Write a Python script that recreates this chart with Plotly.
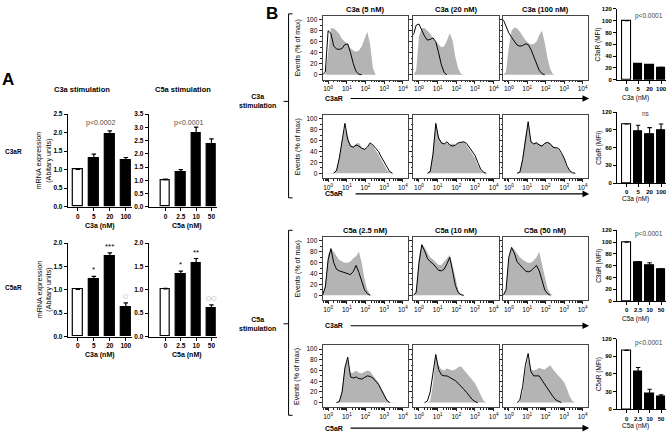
import plotly.graph_objects as go

W, H = 672, 436
FONT = "Liberation Sans, Arial, sans-serif"
GRAY = "#b4b4b4"

# ---------------- Panel A : mRNA expression ----------------
C3A_DOSES = ["0", "5", "20", "100"]
C5A_DOSES = ["0", "2.5", "10", "50"]
C3AR_MRNA_C3A = [1.01, 1.30, 1.97, 1.26]
C3AR_MRNA_C3A_ERR = [0.01, 0.12, 0.08, 0.07]
C3AR_MRNA_C5A = [1.02, 1.30, 2.79, 2.35]
C3AR_MRNA_C5A_ERR = [0.02, 0.10, 0.22, 0.22]
C5AR_MRNA_C3A = [1.01, 1.22, 1.73, 0.64]
C5AR_MRNA_C3A_ERR = [0.01, 0.07, 0.06, 0.08]
C5AR_MRNA_C5A = [1.02, 1.33, 1.58, 0.62]
C5AR_MRNA_C5A_ERR = [0.01, 0.07, 0.09, 0.06]
SIG_C5AR_C3A = ["", "*", "***", "○"]
SIG_C5AR_C5A = ["", "*", "**", "○○"]
SIG_IS_GRAY = [False, False, False, True]

# ---------------- Panel B : MFI bars ----------------
C3AR_MFI_C3A = [100, 26, 24.5, 20]
C3AR_MFI_C3A_ERR = [0, 1, 1, 1]
C5AR_MFI_C3A = [100, 87, 83, 89]
C5AR_MFI_C3A_ERR = [0, 11, 11, 11]
C3AR_MFI_C5A = [100, 65, 60, 54]
C3AR_MFI_C5A_ERR = [0, 1.5, 5, 1]
C5AR_MFI_C5A = [100, 64, 26, 21]
C5AR_MFI_C5A_ERR = [0, 7, 8, 3.5]

# ---------------- Panel B : histograms (log10 fluorescence grid) ----------------
HIST_LOGX = [-0.3, -0.15, 0.0, 0.15, 0.3, 0.45, 0.6, 0.75, 0.9, 1.05, 1.2, 1.35, 1.5, 1.65,
             1.8, 1.95, 2.1, 2.25, 2.4, 2.55, 2.7, 2.85, 3.0, 3.15, 3.3, 3.45, 3.6, 3.75, 3.9]
HIST_TICK_VALS = [1, 10, 100, 1000, 10000]
HIST_TICK_TEXT = ["10<sup>0</sup>", "10<sup>1</sup>", "10<sup>2</sup>", "10<sup>3</sup>", "10<sup>4</sup>"]
HIST_TITLES_C3A = ["C3a (5 nM)", "C3a (20 nM)", "C3a (100 nM)"]
HIST_TITLES_C5A = ["C5a (2.5 nM)", "C5a (10 nM)", "C5a (50 nM)"]

# C3a stimulation, C3aR staining
C3A5_C3AR_CTRL = [0, 0, 40, 85, 84, 80, 74, 65, 60, 55, 48, 44, 42, 44, 52, 65, 78, 55, 12, 0, 0, 0, 0, 0, 0, 0, 0, 0, 0]
C3A5_C3AR_STIM = [0, 5, 80, 75, 52, 47, 46, 48, 55, 56, 40, 20, 6, 1, 0, 0, 0, 0, 0, 0, 0, 0, 0, 0, 0, 0, 0, 0, 0]
C3A20_C3AR_CTRL = [0, 8, 70, 85, 85, 80, 75, 66, 60, 54, 50, 52, 62, 76, 62, 32, 12, 2, 0, 0, 0, 0, 0, 0, 0, 0, 0, 0, 0]
C3A20_C3AR_STIM = [72, 90, 92, 80, 70, 63, 64, 67, 60, 40, 18, 4, 0, 0, 0, 0, 0, 0, 0, 0, 0, 0, 0, 0, 0, 0, 0, 0, 0]
C3A100_C3AR_CTRL = [0, 5, 50, 80, 86, 84, 78, 70, 63, 58, 55, 56, 60, 72, 80, 58, 30, 10, 1, 0, 0, 0, 0, 0, 0, 0, 0, 0, 0]
C3A100_C3AR_STIM = [100, 86, 76, 68, 60, 54, 52, 53, 56, 55, 46, 33, 18, 8, 2, 0, 0, 0, 0, 0, 0, 0, 0, 0, 0, 0, 0, 0, 0]
# C3a stimulation, C5aR staining
C3A5_C5AR_CTRL = [0, 0, 0, 0, 1, 8, 30, 60, 85, 70, 52, 50, 55, 56, 48, 45, 46, 55, 50, 42, 35, 25, 15, 6, 2, 0, 0, 0, 0]
C3A5_C5AR_STIM = [0, 0, 0, 0, 0, 5, 28, 62, 92, 62, 50, 48, 52, 50, 46, 44, 48, 56, 52, 46, 40, 30, 20, 10, 3, 0, 0, 0, 0]
C3A20_C5AR_CTRL = [0, 0, 0, 0, 0, 0, 5, 40, 90, 68, 58, 55, 56, 52, 55, 52, 55, 57, 58, 52, 44, 36, 28, 15, 6, 1, 0, 0, 0]
C3A20_C5AR_STIM = [0, 0, 0, 0, 0, 0, 3, 35, 92, 65, 56, 54, 58, 52, 50, 52, 56, 57, 58, 55, 48, 42, 33, 20, 8, 2, 0, 0, 0]
C3A100_C5AR_CTRL = [0, 0, 0, 0, 0, 0, 3, 30, 70, 90, 60, 55, 58, 54, 52, 56, 58, 55, 50, 46, 44, 36, 28, 12, 5, 1, 0, 0, 0]
C3A100_C5AR_STIM = [0, 0, 0, 0, 0, 0, 2, 25, 65, 95, 58, 54, 56, 52, 50, 55, 57, 54, 48, 47, 46, 38, 28, 14, 5, 1, 0, 0, 0]
# C5a stimulation, C3aR staining
C5A25_C3AR_CTRL = [0, 20, 75, 86, 80, 72, 65, 62, 60, 60, 62, 68, 72, 80, 60, 30, 10, 2, 0, 0, 0, 0, 0, 0, 0, 0, 0, 0, 0]
C5A25_C3AR_STIM = [0, 15, 65, 86, 60, 48, 45, 43, 41, 39, 38, 44, 55, 42, 25, 10, 3, 0, 0, 0, 0, 0, 0, 0, 0, 0, 0, 0, 0]
C5A10_C3AR_CTRL = [0, 10, 70, 95, 88, 78, 70, 66, 60, 56, 56, 62, 70, 74, 55, 30, 10, 2, 0, 0, 0, 0, 0, 0, 0, 0, 0, 0, 0]
C5A10_C3AR_STIM = [0, 5, 60, 93, 82, 68, 62, 58, 52, 46, 45, 48, 58, 70, 45, 18, 5, 1, 0, 0, 0, 0, 0, 0, 0, 0, 0, 0, 0]
C5A50_C3AR_CTRL = [0, 12, 70, 90, 84, 76, 70, 66, 62, 60, 60, 64, 70, 80, 58, 32, 12, 3, 0, 0, 0, 0, 0, 0, 0, 0, 0, 0, 0]
C5A50_C3AR_STIM = [0, 10, 70, 88, 78, 62, 56, 50, 45, 43, 45, 50, 55, 45, 25, 10, 3, 0, 0, 0, 0, 0, 0, 0, 0, 0, 0, 0, 0]
# C5a stimulation, C5aR staining
C5A25_C5AR_CTRL = [0, 0, 0, 0, 0, 0, 3, 25, 70, 80, 56, 56, 60, 56, 55, 58, 60, 58, 50, 44, 38, 28, 16, 6, 1, 0, 0, 0, 0]
C5A25_C5AR_STIM = [0, 0, 0, 0, 0, 0, 2, 20, 65, 85, 48, 46, 48, 45, 44, 47, 50, 49, 46, 40, 34, 24, 13, 4, 0, 0, 0, 0, 0]
C5A10_C5AR_CTRL = [0, 0, 0, 0, 0, 0, 3, 35, 88, 70, 62, 60, 64, 62, 60, 62, 66, 68, 62, 55, 48, 42, 36, 26, 14, 4, 0, 0, 0]
C5A10_C5AR_STIM = [0, 0, 0, 0, 0, 3, 20, 60, 90, 62, 52, 50, 50, 47, 44, 41, 36, 31, 25, 19, 12, 6, 2, 0, 0, 0, 0, 0, 0]
C5A50_C5AR_CTRL = [0, 0, 0, 0, 0, 0, 2, 20, 60, 85, 62, 60, 62, 65, 63, 62, 66, 70, 62, 56, 50, 44, 38, 26, 12, 3, 0, 0, 0]
C5A50_C5AR_STIM = [0, 0, 0, 0, 0, 0, 5, 30, 70, 92, 58, 50, 50, 50, 42, 34, 26, 18, 11, 5, 2, 0, 0, 0, 0, 0, 0, 0, 0]

# ---------------- helpers ----------------
fig = go.Figure()
layout = {}
annotations = []
shapes = []


def dx(x0, x1):
    return [x0 / W, x1 / W]


def dy(top, bot):
    return [1 - bot / H, 1 - top / H]


def ann(text, x, y, size=7, bold=False, angle=0, color="black", xanchor="center", yanchor="middle"):
    annotations.append(dict(text=text, x=x / W, y=1 - y / H, xref="paper", yref="paper",
                            showarrow=False, textangle=angle, xanchor=xanchor, yanchor=yanchor,
                            font=dict(family=FONT, size=size, color=color,
                                      weight="bold" if bold else "normal")))


def line(x0, y0, x1, y1, width=1.0, color="black"):
    shapes.append(dict(type="line", xref="paper", yref="paper", x0=x0 / W, y0=1 - y0 / H,
                       x1=x1 / W, y1=1 - y1 / H, line=dict(color=color, width=width)))


def bar_panel(n, cats, vals, errs, xd, yd, xr, yr, dtick, fmt, bw, lw=1.2, tsize=6.5):
    s = str(n)
    fig.add_trace(go.Bar(
        x=cats, y=vals, xaxis="x" + s, yaxis="y" + s, width=bw, showlegend=False,
        marker=dict(color=["white", "black", "black", "black"], line=dict(color="black", width=lw)),
        error_y=dict(type="data", array=errs, arrayminus=[0] * len(errs), symmetric=False,
                     color="black", thickness=lw, width=2.2)))
    tf = dict(family=FONT, size=tsize, color="black", weight="bold")
    layout["xaxis" + s] = dict(domain=xd, anchor="y" + s, type="category", range=xr,
                               showline=True, linecolor="black", linewidth=lw, ticks="outside",
                               ticklen=3, tickwidth=lw, tickcolor="black", showgrid=False,
                               zeroline=False, tickfont=tf, fixedrange=True)
    layout["yaxis" + s] = dict(domain=yd, anchor="x" + s, range=yr, dtick=dtick, tick0=0,
                               tickformat=fmt, showline=True, linecolor="black", linewidth=lw,
                               ticks="outside", ticklen=3, tickwidth=lw, tickcolor="black",
                               showgrid=False, zeroline=False, tickfont=tf)


def trim(vals):
    out = []
    for i, v in enumerate(vals):
        prev0 = i == 0 or vals[i - 1] == 0
        next0 = i == len(vals) - 1 or vals[i + 1] == 0
        out.append(None if (v == 0 and prev0 and next0) else v)
    return out


MINOR_X = [k / 10 for k in range(5, 10)] + [k * 10 ** e for e in range(0, 4) for k in range(2, 10)]


def hist_panel(n, ctrl, stim, xd, yd, ylabels):
    s = str(n)
    xs = [10 ** v for v in HIST_LOGX]
    fig.add_trace(go.Scatter(x=xs, y=ctrl, xaxis="x" + s, yaxis="y" + s, mode="lines",
                             fill="tozeroy", fillcolor=GRAY, line=dict(color=GRAY, width=0),
                             showlegend=False, hoverinfo="skip"))
    fig.add_trace(go.Scatter(x=xs, y=trim(stim), xaxis="x" + s, yaxis="y" + s, mode="lines",
                             line=dict(color="black", width=1.0), showlegend=False,
                             connectgaps=False))
    tf = dict(family=FONT, size=6.5, color="black")
    layout["xaxis" + s] = dict(domain=xd, anchor="y" + s, type="log", range=[-0.3, 4.3],
                               tickvals=HIST_TICK_VALS, ticktext=HIST_TICK_TEXT,
                               ticks="outside", ticklen=3, tickwidth=0.8, tickcolor="#222",
                               showline=True, mirror=True, linecolor="#444", linewidth=0.8,
                               showgrid=False, zeroline=False, tickfont=tf,
                               minor=dict(tickvals=MINOR_X, ticks="outside", ticklen=1.8,
                                          tickwidth=0.6, tickcolor="#222", showgrid=False))
    layout["yaxis" + s] = dict(domain=yd, anchor="x" + s, range=[-9, 107],
                               tickvals=[0, 20, 40, 60, 80, 100], showticklabels=ylabels,
                               ticks="outside", ticklen=3, tickwidth=0.8, tickcolor="#222",
                               showline=True, mirror=True, linecolor="#444", linewidth=0.8,
                               showgrid=False, zeroline=False, tickfont=tf,
                               minor=dict(tickvals=[10, 30, 50, 70, 90], ticks="outside",
                                          ticklen=1.8, tickwidth=0.6, tickcolor="#222"))


# ---------------- Panel A ----------------
bar_panel(1, C3A_DOSES, C3AR_MRNA_C3A, C3AR_MRNA_C3A_ERR, dx(68, 132.4), dy(112, 206),
          [-0.625, 3.4], [0, 2.5], 0.5, ".1f", 0.6)
bar_panel(2, C5A_DOSES, C3AR_MRNA_C5A, C3AR_MRNA_C5A_ERR, dx(149, 217), dy(112, 206),
          [-1.09, 3.34], [0, 3.5], 0.5, ".1f", 0.6)
bar_panel(3, C3A_DOSES, C5AR_MRNA_C3A, C5AR_MRNA_C3A_ERR, dx(68, 132.4), dy(243, 338),
          [-0.625, 3.4], [0, 2.0], 0.5, ".1f", 0.6)
bar_panel(4, C5A_DOSES, C5AR_MRNA_C5A, C5AR_MRNA_C5A_ERR, dx(149, 217), dy(243, 338),
          [-1.09, 3.34], [0, 2.0], 0.5, ".1f", 0.6)

for n, vals, errs, sigs in [(3, C5AR_MRNA_C3A, C5AR_MRNA_C3A_ERR, SIG_C5AR_C3A),
                            (4, C5AR_MRNA_C5A, C5AR_MRNA_C5A_ERR, SIG_C5AR_C5A)]:
    for i, (v, e, sg, g) in enumerate(zip(vals, errs, sigs, SIG_IS_GRAY)):
        if sg:
            annotations.append(dict(text=sg, x=i, y=v + e + 0.02, xref="x%d" % n, yref="y%d" % n,
                                    showarrow=False, yanchor="bottom", yshift=1 if g else -1,
                                    font=dict(family="DejaVu Sans" if g else FONT,
                                              size=6 if g else 8,
                                              color="#8a8a8a" if g else "black")))

ann("A", 8, 77, size=17, bold=True)
ann("C3a stimulation", 82, 87, size=7.5, bold=True)
ann("C5a stimulation", 183, 87, size=7.5, bold=True)
ann("C3aR", 14, 150, size=6.5, bold=True)
ann("C5aR", 14, 288, size=6.5, bold=True)
ann("mRNA expression<br>(Abitary units)", 44, 159, size=7.2, angle=-90)
ann("mRNA expression<br>(Abitary units)", 44, 290, size=7.2, angle=-90)
ann("p<0.0002", 101, 121, size=7, color="#4a4a4a")
ann("p<0.0001", 189, 121, size=7, color="#4a4a4a")
ann("C3a (nM)", 100, 226, size=7, bold=True)
ann("C5a (nM)", 187, 226, size=7, bold=True)
ann("C3a (nM)", 100, 357, size=7, bold=True)
ann("C5a (nM)", 187, 357, size=7, bold=True)

# ---------------- Panel B histograms ----------------
COLS = [(323, 409), (414, 500), (504, 589)]
ROWS = [(12, 77), (113, 177), (237, 301), (347, 410)]
HISTS = [
    [(C3A5_C3AR_CTRL, C3A5_C3AR_STIM), (C3A20_C3AR_CTRL, C3A20_C3AR_STIM), (C3A100_C3AR_CTRL, C3A100_C3AR_STIM)],
    [(C3A5_C5AR_CTRL, C3A5_C5AR_STIM), (C3A20_C5AR_CTRL, C3A20_C5AR_STIM), (C3A100_C5AR_CTRL, C3A100_C5AR_STIM)],
    [(C5A25_C3AR_CTRL, C5A25_C3AR_STIM), (C5A10_C3AR_CTRL, C5A10_C3AR_STIM), (C5A50_C3AR_CTRL, C5A50_C3AR_STIM)],
    [(C5A25_C5AR_CTRL, C5A25_C5AR_STIM), (C5A10_C5AR_CTRL, C5A10_C5AR_STIM), (C5A50_C5AR_CTRL, C5A50_C5AR_STIM)],
]
n = 5
for r, (yt, yb) in enumerate(ROWS):
    for c, (x0, x1) in enumerate(COLS):
        ctrl, stim = HISTS[r][c]
        hist_panel(n, ctrl, stim, dx(x0, x1), dy(yt, yb), c == 0)
        n += 1
    ann("Events (% of max)", 298, (yt + yb) / 2, size=7, angle=-90)

for c, (x0, x1) in enumerate(COLS):
    ann(HIST_TITLES_C3A[c], (x0 + x1) / 2, 6, size=7.5, bold=True)
    ann(HIST_TITLES_C5A[c], (x0 + x1) / 2, 230, size=7.5, bold=True)

ann("B", 272, 10, size=17, bold=True)

# axis arrows under histogram rows
for lab, y, xs in [("C3aR", 96, 350), ("C5aR", 193, 355), ("C3aR", 327, 350), ("C5aR", 431, 350)]:
    ann(lab, 323, y, size=7, bold=True, xanchor="left")
    annotations.append(dict(text="", x=590 / W, y=1 - y / H, xref="paper", yref="paper",
                            showarrow=True, ax=xs - 590, ay=0, axref="pixel", ayref="pixel",
                            arrowhead=2, arrowsize=1.2, arrowwidth=1.1, arrowcolor="black"))

# brackets
for top, bot, mid, lab in [(10, 197, 99, "C3a<br>stimulation"), (230, 418, 325, "C5a<br>stimulation")]:
    line(289, top, 289, bot, width=1)
    line(289, top, 293, top, width=1)
    line(289, bot, 293, bot, width=1)
    line(284, mid, 289, mid, width=1)
    ann(lab, 258, mid, size=7, bold=True)

# ---------------- Panel B MFI bars ----------------
RX = dx(618, 667)
RXR = [-0.83, 3.43]
bar_panel(17, C3A_DOSES, C3AR_MFI_C3A, C3AR_MFI_C3A_ERR, RX, dy(5, 77), RXR, [0, 120], 20, "d", 0.72, lw=1.1, tsize=6)
bar_panel(18, C3A_DOSES, C5AR_MFI_C3A, C5AR_MFI_C3A_ERR, RX, dy(110, 182), RXR, [0, 120], 30, "d", 0.72, lw=1.1, tsize=6)
bar_panel(19, C5A_DOSES, C3AR_MFI_C5A, C3AR_MFI_C5A_ERR, RX, dy(230, 302), RXR, [0, 120], 20, "d", 0.72, lw=1.1, tsize=6)
bar_panel(20, C5A_DOSES, C5AR_MFI_C5A, C5AR_MFI_C5A_ERR, RX, dy(340, 412), RXR, [0, 120], 30, "d", 0.72, lw=1.1, tsize=6)

ann("C3aR (MFI)", 599, 41, size=6.5, angle=-90)
ann("C5aR (MFI)", 600, 146, size=6.5, angle=-90)
ann("C3aR (MFI)", 600, 266, size=6.5, angle=-90)
ann("C5aR (MFI)", 600, 376, size=6.5, angle=-90)
ann("p<0.0001", 650, 12, size=6.5, color="#444")
ann("ns", 647, 111, size=6.5, color="#444")
ann("p<0.0001", 650, 234, size=6.5, color="#444")
ann("p<0.0001", 650, 345, size=6.5, color="#444")
ann("C3a (nM)", 636, 96, size=6.5)
ann("C3a (nM)", 636, 198, size=6.5)
ann("C5a (nM)", 636, 320, size=6.5)
ann("C5a (nM)", 636, 429, size=6.5)

layout.update(dict(width=W, height=H, margin=dict(l=0, r=0, t=0, b=0),
                   paper_bgcolor="white", plot_bgcolor="white", showlegend=False,
                   bargap=0, font=dict(family=FONT, color="black"),
                   annotations=annotations, shapes=shapes))
fig.update_layout(**layout)
fig.write_html("out.html", config={"displayModeBar": False},
               post_script="document.body.style.margin='0px';document.body.style.padding='0px';")
